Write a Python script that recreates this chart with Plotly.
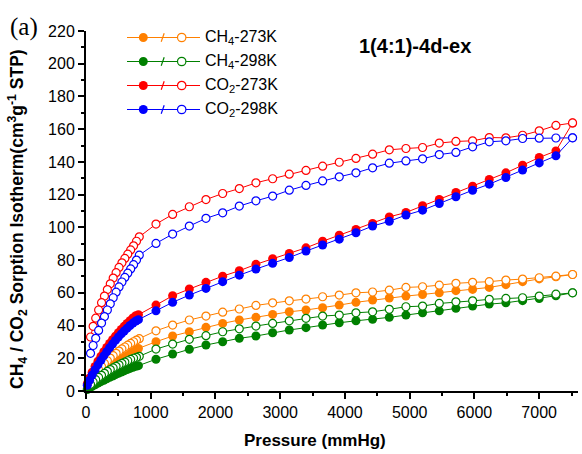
import plotly.graph_objects as go

# Pressure grids (mmHg)
p_low_ads = [20, 55, 95, 140, 185, 230, 275, 320, 365, 410, 455, 500, 545, 590, 635, 680, 725, 770, 810]
p_low_des = [70, 110, 150, 195, 240, 285, 330, 375, 420, 465, 510, 555, 600, 645, 690, 735, 780, 823]
p_high = [1081, 1338, 1596, 1853, 2111, 2368, 2625, 2883, 3140, 3398, 3655, 3912, 4170,
          4427, 4685, 4942, 5199, 5457, 5714, 5972, 6229, 6486, 6744, 7001, 7259, 7516]

# Uptake (cm3 g-1 STP): adsorption (filled) and desorption (open) branches
ch4_273_ads = [1.5, 3.2, 5, 6.8, 8.5, 10, 11.5, 12.9, 14.3, 15.6, 16.9, 18.1, 19.3, 20.5, 21.6, 22.7, 23.8, 24.9, 26,
               30.1, 33.6, 36.2, 38.9, 41.3, 43.4, 45, 46.8, 48.4, 49.5, 50.9, 52.5, 54.2, 55.6, 56.8, 58,
               59, 60, 61.3, 62.1, 63.3, 65, 66.8, 68.5, 69.8, 71.2]
ch4_273_des = [6, 8.5, 10.7, 13, 15, 16.8, 18.5, 20.1, 21.6, 23, 24.4, 25.7, 26.9, 28, 29.1, 30.1, 31.1, 32,
               36.8, 40.3, 43.4, 45.8, 48.2, 50.1, 52.3, 53.9, 55.1, 56.2, 57.6, 58.6, 60, 60.5, 61.6,
               63.3, 63.7, 64.7, 65.8, 66.4, 66.8, 67.8, 68.4, 69.2, 70.2, 71.2]
ch4_298_ads = [0.9, 1.8, 2.8, 3.8, 4.8, 5.7, 6.6, 7.5, 8.4, 9.2, 10, 10.8, 11.6, 12.4, 13.1, 13.8, 14.5, 15.1, 15.5,
               19.4, 22.6, 25.5, 28.1, 30.1, 32.2, 33.6, 35.6, 37.3, 38.7, 40.3, 41.7, 42.9, 43.8, 45,
               46.4, 47.8, 49, 50.5, 51.9, 53.1, 53.9, 55.2, 56.5, 58.2, 60]
ch4_298_des = [4, 5.5, 6.9, 8.3, 9.6, 10.8, 12, 13.1, 14.1, 15.1, 16, 16.9, 17.7, 18.5, 19.3, 20, 20.6, 21.2,
               25.6, 28.7, 31.6, 33.8, 36.2, 38, 39.7, 41.3, 42.9, 44.4, 45.8, 46.4, 47.8, 48.4, 49.9,
               51.5, 51.9, 53.5, 54.5, 55.1, 56, 56.6, 57, 58, 59.2, 60]
co2_273_ads = [4.5, 8, 11.5, 15, 18.2, 21.2, 24, 26.6, 29, 31.3, 33.5, 35.6, 37.6, 39.5, 41.3, 43, 44.6, 46, 46.6,
               52.5, 58.2, 62.3, 66.4, 70.2, 73.5, 77.4, 80.8, 84.1, 87.5, 91.5, 95.2, 98.7, 102.4, 106.4,
               109.1, 113.2, 117.1, 121.3, 125.2, 129.3, 133.3, 138, 142.7, 146.7, 163.8]
co2_273_des = [33, 39.5, 44.5, 49.5, 54, 58, 62, 65.5, 69, 72.3, 75.5, 78.3, 81, 83.6, 86.2, 88.7, 91.5, 94.2,
               102, 107.9, 112.6, 117, 120.7, 123.7, 127.2, 129.7, 132.5, 134.8, 137.4, 139.8, 142.1, 144.7,
               147.4, 148.2, 148.8, 151.5, 152.5, 152.9, 154.9, 154.7, 156.3, 159, 162.3, 163.8]
co2_298_ads = [3.5, 6.5, 9.8, 13, 16, 18.8, 21.5, 24, 26.4, 28.7, 30.9, 33, 34.9, 36.7, 38.4, 40, 41.5, 42.8, 43.6,
               49, 54.2, 58.6, 62.7, 66.8, 70.8, 74.5, 78, 81.6, 85.5, 89.2, 92.8, 96.7, 100.8, 103.7,
               107.5, 110.5, 114.6, 118.7, 122.7, 126.4, 130.5, 135, 139.4, 143.7, 154.7]
co2_298_des = [23, 27.8, 32.2, 37, 41.5, 45.5, 49.5, 53.3, 57, 60.4, 63.6, 66.6, 69.4, 72, 74.6, 77.2, 80, 83,
               90.2, 95.9, 100.8, 105.5, 108.9, 113, 116.2, 119.1, 122.7, 125.6, 128.4, 130.9, 133.3, 136.4,
               139.2, 140.6, 141.9, 144.5, 145.8, 149.2, 152.3, 152.9, 154.3, 154.5, 154.6, 154.7]

series_names = ["CH<sub>4</sub>-273K", "CH<sub>4</sub>-298K", "CO<sub>2</sub>-273K", "CO<sub>2</sub>-298K"]
series_colors = ["#FF8000", "#008000", "#FF0000", "#0000FF"]
series_ads = [ch4_273_ads, ch4_298_ads, co2_273_ads, co2_298_ads]
series_des = [ch4_273_des, ch4_298_des, co2_273_des, co2_298_des]

p_ads = p_low_ads + p_high
p_des = p_low_des + p_high

FONT = "Liberation Sans, Arial, sans-serif"
W, H = 582, 454
L, R, T, B = 86, 4, 31, 63
PW, PH = W - L - R, H - T - B


def px(x):
    return (x - L) / PW


def py(y):
    return (H - B - y) / PH


fig = go.Figure()
for name, col, ads, des in zip(series_names, series_colors, series_ads, series_des):
    fig.add_trace(go.Scatter(
        x=p_ads, y=ads, mode="lines+markers", cliponaxis=False, showlegend=False,
        line=dict(color=col, width=1),
        marker=dict(symbol="circle", size=9, color=col, line=dict(width=0)),
    ))
    fig.add_trace(go.Scatter(
        x=p_des[::-1], y=des[::-1], mode="lines+markers", cliponaxis=False, showlegend=False,
        line=dict(color=col, width=1),
        marker=dict(symbol="circle", size=8, color="white", line=dict(color=col, width=1.2)),
    ))

# Hand-drawn legend: filled marker / open marker pairs
shapes = []
annotations = []
row_y = [37.5, 61.5, 85.5, 109.5]
for name, col, ry in zip(series_names, series_colors, row_y):
    shapes.append(dict(type="line", xref="paper", yref="paper", x0=px(127), x1=px(200),
                       y0=py(ry), y1=py(ry), line=dict(color=col, width=1)))
    shapes.append(dict(type="line", xref="paper", yref="paper", x0=px(161.2), x1=px(164.2),
                       y0=py(ry + 4.2), y1=py(ry - 4.2), line=dict(color=col, width=1.2)))
    shapes.append(dict(type="circle", xref="paper", yref="paper", xsizemode="pixel", ysizemode="pixel",
                       xanchor=px(143.3), yanchor=py(ry), x0=-4.5, x1=4.5, y0=-4.5, y1=4.5,
                       fillcolor=col, line=dict(width=0)))
    shapes.append(dict(type="circle", xref="paper", yref="paper", xsizemode="pixel", ysizemode="pixel",
                       xanchor=px(181.7), yanchor=py(ry), x0=-4.2, x1=4.2, y0=-4.2, y1=4.2,
                       fillcolor="white", line=dict(color=col, width=1.2)))
    annotations.append(dict(text=name, xref="paper", yref="paper", x=px(203), y=py(ry),
                            xanchor="left", yanchor="middle", showarrow=False,
                            font=dict(family=FONT, size=16, color="black")))

annotations += [
    dict(text="<b>1(4:1)-4d-ex</b>", xref="paper", yref="paper", x=px(415), y=py(46),
         xanchor="center", yanchor="middle", showarrow=False,
         font=dict(family=FONT, size=20, color="black")),
    dict(text="(a)", xref="paper", yref="paper", x=px(24), y=py(27),
         xanchor="center", yanchor="middle", showarrow=False,
         font=dict(family="Liberation Serif, Times New Roman, serif", size=25, color="black")),
    dict(text="<b>Pressure (mmHg)</b>", xref="paper", yref="paper", x=px(315), y=py(440),
         xanchor="center", yanchor="middle", showarrow=False,
         font=dict(family=FONT, size=17, color="black")),
    dict(text="<b>CH<sub>4</sub> / CO<sub>2</sub> Sorption Isotherm(cm<sup>3</sup>g<sup>-1</sup> STP)</b>",
         xref="paper", yref="paper", x=px(18), y=py(219), textangle=-90,
         xanchor="center", yanchor="middle", showarrow=False,
         font=dict(family=FONT, size=17.5, color="black")),
]

axis_common = dict(
    showline=True, linecolor="black", linewidth=2, mirror=False,
    ticks="outside", ticklen=6, tickwidth=2, tickcolor="black",
    showgrid=False, zeroline=False,
    tickfont=dict(family=FONT, size=16, color="black"),
)

fig.update_layout(
    width=W, height=H,
    margin=dict(l=L, r=R, t=T, b=B),
    paper_bgcolor="white", plot_bgcolor="white",
    xaxis=dict(range=[0, 7600], tick0=0, dtick=1000,
               minor=dict(ticks="outside", dtick=500, ticklen=3, tickwidth=2, tickcolor="black"),
               **axis_common),
    yaxis=dict(range=[0, 220], tick0=0, dtick=20,
               minor=dict(ticks="outside", dtick=10, ticklen=3, tickwidth=2, tickcolor="black"),
               **axis_common),
    shapes=shapes,
    annotations=annotations,
    showlegend=False,
)

fig.write_html("out.html")
